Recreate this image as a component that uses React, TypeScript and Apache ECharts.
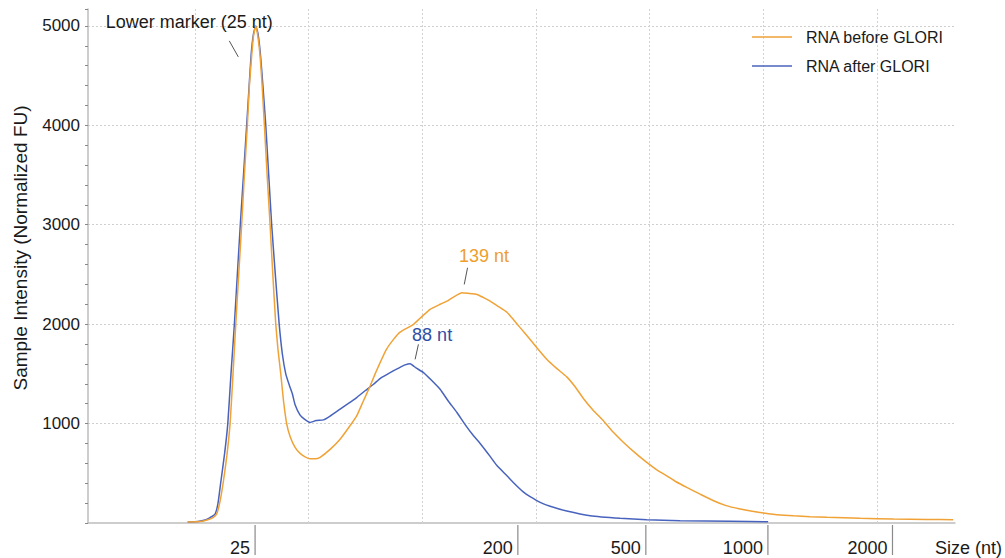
import React, { useEffect, useRef } from "react";
import * as echarts from "echarts";

// Migration time (s) and normalized fluorescence for each trace
const TIME_BEFORE = [
  24.65, 25.22, 25.53, 25.79, 25.95, 26.1, 26.25, 26.4, 26.54, 26.67, 26.79, 26.92, 27.05, 27.17, 27.3, 27.39,
  27.49, 27.57, 27.67, 27.76, 27.86, 27.95, 28.05, 28.17, 28.3, 28.42, 28.55, 28.65, 28.77, 28.89, 29.03, 29.18,
  29.4, 29.62, 29.84, 30.06, 30.28, 30.5, 30.94, 31.38, 31.73, 32.11, 32.39, 32.7, 32.92, 33.14, 33.4, 33.73,
  34.02, 34.61, 34.9, 35.34, 35.78, 36.08, 36.35, 36.74, 37.01, 37.4, 37.67, 37.98, 38.33, 38.72, 39.01, 39.3,
  39.74, 40.1, 40.47, 40.88, 41.35, 41.72, 42.09, 42.51, 42.97, 43.39, 43.85, 44.36, 44.87, 45.28, 45.75, 46.16,
  46.63, 47.22, 47.81, 48.36, 48.98, 49.51, 50.01, 50.74, 51.33, 52.06, 52.8, 54.26, 55.73, 57.2, 58.35,
];
const FU_BEFORE = [
  10, 15, 30, 55, 90, 220, 425, 680, 1000, 1500, 2000, 2500, 3000, 3500, 4000, 4400,
  4700, 4900, 5000, 4900, 4700, 4400, 4000, 3500, 3000, 2500, 2000, 1740, 1500, 1230, 1000, 870,
  760, 700, 665, 645, 645, 660, 740, 843, 950, 1077, 1220, 1378, 1500, 1613, 1740, 1847,
  1920, 1998, 2060, 2149, 2200, 2232, 2270, 2316, 2310, 2299, 2270, 2232, 2180, 2120, 2045, 1965,
  1845, 1745, 1647, 1560, 1470, 1370, 1250, 1135, 1027, 915, 810, 705, 609, 540, 475, 415,
  358, 290, 224, 175, 141, 118, 100, 80, 72, 64, 57, 47, 40, 35, 33,
];
const TIME_AFTER = [
  24.69, 25.13, 25.44, 25.66, 25.88, 26.01, 26.14, 26.3, 26.44, 26.58, 26.73, 26.86, 26.99, 27.13, 27.27, 27.38,
  27.47, 27.57, 27.67, 27.77, 27.88, 27.99, 28.11, 28.24, 28.37, 28.53, 28.7, 28.84, 28.99, 29.14, 29.28, 29.4,
  29.62, 29.84, 30.06, 30.32, 30.65, 30.94, 31.38, 31.73, 32.11, 32.48, 32.85, 33.18, 33.58, 33.93, 34.24, 34.46,
  34.72, 35.05, 35.38, 35.78, 36.13, 36.52, 36.88, 37.25, 37.54, 37.98, 38.27, 38.72, 39.01, 39.45, 39.74, 40.18,
  40.62, 41.35, 42.38, 43.7, 44.87, 46.34, 48.54, 50.21,
];
const FU_AFTER = [
  10, 15, 30, 55, 90, 200, 425, 700, 1000, 1500, 2000, 2500, 3000, 3500, 4000, 4400,
  4720, 4920, 5000, 4920, 4700, 4380, 4000, 3500, 3000, 2500, 2000, 1700, 1500, 1390, 1300, 1190,
  1085, 1040, 1011, 1030, 1037, 1075, 1145, 1200, 1262, 1330, 1396, 1460, 1513, 1555, 1590, 1603,
  1560, 1513, 1440, 1345, 1230, 1111, 990, 877, 800, 670, 580, 475, 405, 310, 265, 208,
  168, 120, 73, 47, 33, 23, 17, 12,
];

// Size ladder (nt) and where each size falls on the time axis
const LADDER_NT = [25, 200, 500, 1000, 2000];
const LADDER_TIME = [27.64, 39.2, 44.83, 50.2, 55.68];

// Vertical grid positions (time) and y ticks
const GRID_TIMES = [25, 30, 35, 40, 45, 50, 55];
const Y_MIN = 0;
const Y_MAX = 5170;
const Y_INTERVAL = 1000;
const X_MIN = 20.29;
const X_MAX = 58.43;

// Peak annotations
const PEAK_LABELS = ["Lower marker (25 nt)", "139 nt", "88 nt"];
const PEAK_TIME = [27.65, 36.74, 34.46];
const PEAK_FU = [5000, 2316, 1603];

const SERIES_NAMES = ["RNA before GLORI", "RNA after GLORI"];
const ORANGE = "#F0A236";
const BLUE = "#4863BD";
const FONT = '"Liberation Sans", Arial, sans-serif';

const ANNOT_STYLE = [
  { tx: -66, ty: -4, x1: -26, y1: 15, x2: -17, y2: 31, color: "#1a1a1a" },
  { tx: 22, ty: -37, x1: 5.6, y1: -25, x2: 2.3, y2: -8.3, color: "#EE9E2E" },
  { tx: 22, ty: -29, x1: 8.3, y1: -19.3, x2: 5, y2: -4.3, color: "#2F4DA6" },
];

export default function App() {
  const ref = useRef<HTMLDivElement>(null);
  useEffect(() => {
    if (!ref.current) return;
    const chart = echarts.init(ref.current, undefined, { renderer: "svg" });
    const before = TIME_BEFORE.map((t, i) => [t, FU_BEFORE[i]]);
    const after = TIME_AFTER.map((t, i) => [t, FU_AFTER[i]]);
    const ladder = LADDER_TIME.map((t, i) => [t, 0, LADDER_NT[i]]);
    const peaks = PEAK_TIME.map((t, i) => [t, PEAK_FU[i], i]);

    chart.setOption({
      animation: false,
      backgroundColor: "#ffffff",
      textStyle: { fontFamily: FONT },
      grid: { left: 88, right: 50, top: 9, bottom: 35 },
      legend: {
        data: SERIES_NAMES,
        orient: "vertical",
        left: 747,
        top: 23,
        icon: "rect",
        itemWidth: 40,
        itemHeight: 1.5,
        itemGap: 11,
        textStyle: { fontSize: 16, color: "#1a1a1a", fontFamily: FONT, lineHeight: 18, padding: [0, 0, 0, 9] },
      },
      xAxis: {
        type: "value",
        min: X_MIN,
        max: X_MAX,
        axisLine: { show: true, lineStyle: { color: "#BDBDBD", width: 1.5 } },
        axisTick: { show: false },
        axisLabel: { show: false },
        splitLine: { show: false },
      },
      yAxis: {
        type: "value",
        min: Y_MIN,
        max: Y_MAX,
        interval: Y_INTERVAL,
        axisLine: { show: true, lineStyle: { color: "#BDBDBD", width: 1.5 } },
        axisTick: { show: true, length: 3, lineStyle: { color: "#888" } },
        minorTick: { show: true, splitNumber: 5, length: 3, lineStyle: { color: "#888" } },
        axisLabel: {
          fontSize: 17,
          color: "#1a1a1a",
          margin: 8,
          fontFamily: FONT,
          showMaxLabel: false,
          formatter: (v: number) => (v % Y_INTERVAL === 0 && v > 0 ? String(v) : ""),
        },
        splitLine: {
          show: true,
          showMinLine: false,
          showMaxLine: false,
          lineStyle: { color: "#CFCFCF", type: [2, 2], width: 1 },
        },
      },
      graphic: [
        {
          type: "text",
          x: 20,
          y: 248,
          rotation: Math.PI / 2,
          style: {
            text: "Sample Intensity (Normalized FU)",
            fontSize: 19,
            fontFamily: FONT,
            fill: "#1a1a1a",
            align: "center",
            verticalAlign: "middle",
          },
        },
        {
          type: "text",
          right: 3,
          top: 539,
          style: { text: "Size (nt)", fontSize: 18, fontFamily: FONT, fill: "#1a1a1a" },
        },
      ],
      series: [
        {
          name: SERIES_NAMES[1],
          type: "line",
          data: after,
          showSymbol: false,
          symbol: "none",
          smooth: 0.15,
          color: BLUE,
          lineStyle: { color: BLUE, width: 1.5 },
          z: 2,
        },
        {
          name: SERIES_NAMES[0],
          type: "line",
          data: before,
          showSymbol: false,
          symbol: "none",
          smooth: 0.15,
          color: ORANGE,
          lineStyle: { color: ORANGE, width: 1.5 },
          z: 3,
          markLine: {
            silent: true,
            symbol: "none",
            label: { show: false },
            lineStyle: { color: "#D2D2D2", type: [2, 2], width: 1 },
            data: GRID_TIMES.map((t) => ({ xAxis: t })),
            z: 1,
          },
        },
        {
          type: "custom",
          name: "ladder",
          data: ladder,
          clip: false,
          silent: true,
          renderItem: (params: any, api: any) => {
            const p = api.coord([api.value(0), 0]);
            return {
              type: "group",
              children: [
                {
                  type: "line",
                  shape: { x1: p[0], y1: p[1] + 2, x2: p[0], y2: p[1] + 32 },
                  style: { stroke: "#8A8A8A", lineWidth: 1.2 },
                },
                {
                  type: "text",
                  x: p[0] - 5,
                  y: p[1] + 25,
                  style: {
                    text: String(api.value(2)),
                    fontSize: 18,
                    fontFamily: FONT,
                    fill: "#1a1a1a",
                    align: "right",
                    verticalAlign: "middle",
                  },
                },
              ],
            };
          },
        },
        {
          type: "custom",
          name: "peaks",
          data: peaks,
          clip: false,
          silent: true,
          z: 5,
          renderItem: (params: any, api: any) => {
            const p = api.coord([api.value(0), api.value(1)]);
            const i = params.dataIndex;
            const s = ANNOT_STYLE[i];
            return {
              type: "group",
              children: [
                {
                  type: "line",
                  shape: { x1: p[0] + s.x1, y1: p[1] + s.y1, x2: p[0] + s.x2, y2: p[1] + s.y2 },
                  style: { stroke: "#555", lineWidth: 1 },
                },
                {
                  type: "text",
                  x: p[0] + s.tx,
                  y: p[1] + s.ty,
                  style: {
                    text: PEAK_LABELS[i],
                    fontSize: 18,
                    fontFamily: FONT,
                    fill: s.color,
                    align: "center",
                    verticalAlign: "middle",
                  },
                },
              ],
            };
          },
        },
      ],
    });
    return () => chart.dispose();
  }, []);
  return <div ref={ref} style={{ width: 1005, height: 558, position: "absolute", left: 0, top: 0 }} />;
}
